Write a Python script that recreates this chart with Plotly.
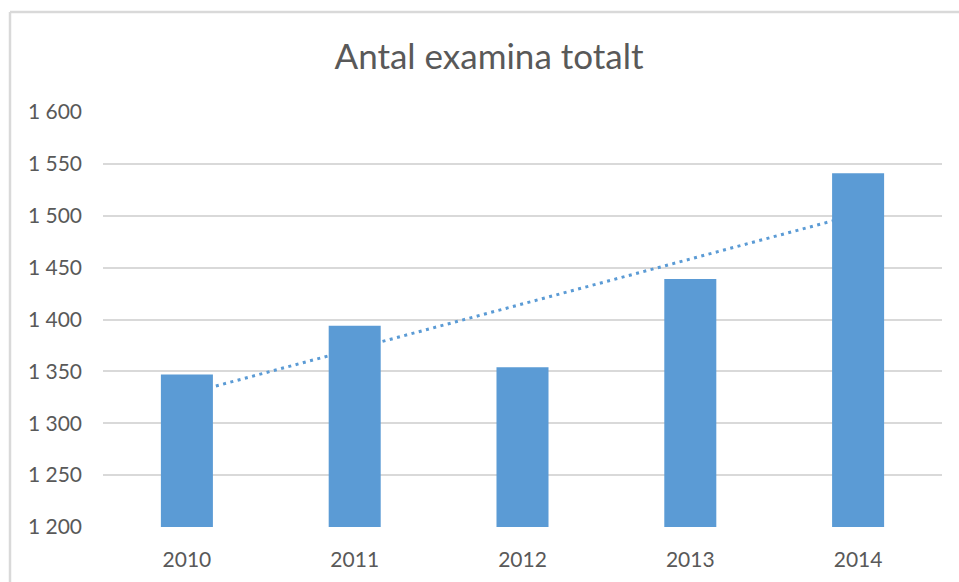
import numpy as np
import plotly.graph_objects as go

years = ["2010", "2011", "2012", "2013", "2014"]
values = [1347, 1394, 1354, 1439, 1541]
title_text = "Antal examina totalt"
y_ticks = [1200, 1250, 1300, 1350, 1400, 1450, 1500, 1550, 1600]

# Linear trendline (least squares) computed from the data
xi = np.arange(1, len(values) + 1)
slope, intercept = np.polyfit(xi, values, 1)
trend = (slope * xi + intercept).tolist()

BAR = "#5b9bd5"
TXT = "#595959"
GRID = "#d9d9d9"
FONT = "Lato, 'Open Sans', sans-serif"

fig = go.Figure()
# trendline on base subplot (drawn underneath the bars)
fig.add_trace(go.Scatter(
    x=years, y=trend, mode="lines", xaxis="x", yaxis="y",
    line=dict(color=BAR, width=3, dash="3px,4.5px"),
    hoverinfo="skip", showlegend=False))
# bars on overlay subplot (drawn above)
fig.add_trace(go.Bar(
    x=years, y=values, xaxis="x2", yaxis="y2",
    marker=dict(color=BAR, line=dict(width=0)),
    width=0.31, showlegend=False))

W, H = 959, 582
# plot area on screen: x 103..942, y 112..527
L, T = 103, 112
R, B = W - 942, H - 527
pw, ph = W - L - R, H - T - B

def px_x(p):  # screen px -> paper
    return (p - L) / pw

def px_y(p):
    return (H - B - p) / ph

fig.update_layout(
    width=W, height=H,
    margin=dict(l=L, r=R, t=T, b=B),
    paper_bgcolor="white", plot_bgcolor="white",
    separators=", ",
    font=dict(family=FONT, color=TXT, size=21),
    title=dict(text=title_text, x=489 / W, xanchor="center",
               xref="container", yref="container",
               y=1 - 57 / H, yanchor="middle",
               font=dict(family=FONT, size=35, color=TXT)),
    xaxis=dict(type="category", range=[-0.5, 4.5], showgrid=False,
               showline=False, zeroline=False, ticks="",
               tickfont=dict(size=21, color=TXT), ticklabelstandoff=18),
    yaxis=dict(range=[1200, 1600], tickvals=y_ticks, tickformat=",d",
               showgrid=True, gridcolor=GRID, gridwidth=1.5,
               zeroline=False, showline=False, ticks="",
               tickfont=dict(size=21, color=TXT), ticklabelstandoff=20),
    xaxis2=dict(type="category", range=[-0.5, 4.5], overlaying="x",
                visible=False, matches="x"),
    yaxis2=dict(range=[1200, 1600], overlaying="y", visible=False,
                matches="y"),
    shapes=[
        dict(type="line", xref="paper", yref="paper",
             x0=px_x(10), x1=px_x(975), y0=px_y(12), y1=px_y(12),
             line=dict(color=GRID, width=2.5)),
        dict(type="line", xref="paper", yref="paper",
             x0=px_x(10), x1=px_x(10), y0=px_y(12), y1=px_y(600),
             line=dict(color=GRID, width=2.5)),
    ],
)

fig.write_html("out.html",
               config={"displayModeBar": False},
               post_script="document.body.style.margin='0';"
                           "document.body.style.overflow='hidden';")
